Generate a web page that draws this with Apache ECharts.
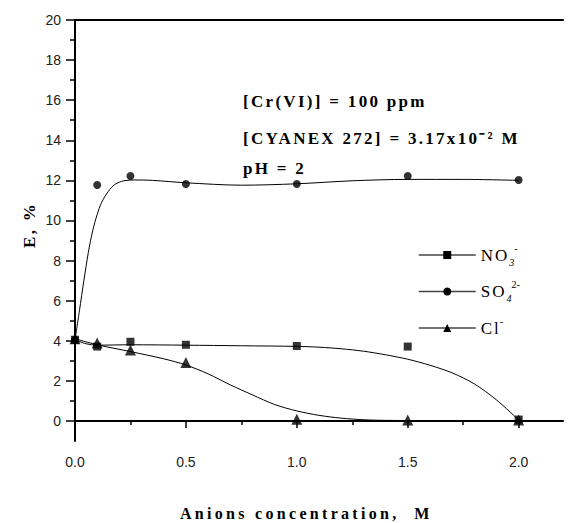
<!DOCTYPE html>
<html>
<head>
<meta charset="utf-8">
<script src="https://cdn.jsdelivr.net/npm/echarts@6/dist/echarts.min.js"></script>
<style>
html, body { margin: 0; padding: 0; background: #fff; }
#chart { width: 568px; height: 523px; }
/* the original uses spaced-out serif lettering */
#chart text[style*="bold"] { letter-spacing: 2.3px; }
#chart text[style*="bold"][style*="16px"] { letter-spacing: 3.3px; }
#chart text[style*="17px"]:not([style*="bold"]) { letter-spacing: 2px; }
</style>
</head>
<body>
<div id="chart"></div>
<script>
// axis ticks
const xTicks = [0, 0.5, 1, 1.5, 2];
const xMinorTicks = [0.25, 0.75, 1.25, 1.75];
const yTicks = [0, 2, 4, 6, 8, 10, 12, 14, 16, 18, 20];
const yMinorTicks = [1, 3, 5, 7, 9, 11, 13, 15, 17, 19];

// measured points
const seriesNames = ['NO3-', 'SO42-', 'Cl-'];
const concentration = [0, 0.1, 0.25, 0.5, 1.0, 1.5, 2.0];
const no3Values = [4.05, 3.71, 3.95, 3.8, 3.74, 3.71, 0.07];
const so4Values = [4.05, 11.77, 12.22, 11.82, 11.82, 12.22, 12.02];
const clValues = [4.1, 3.89, 3.54, 2.91, 0.08, 0.05, 0.05];

// fitted curves
const no3Fit = [[0, 4.05], [0.05, 3.85], [0.1, 3.78], [0.25, 3.8], [0.5, 3.78], [0.75, 3.75], [1.0, 3.72],
    [1.1, 3.68], [1.2, 3.6], [1.3, 3.48], [1.4, 3.3], [1.5, 3.08], [1.6, 2.78], [1.7, 2.4], [1.8, 1.85],
    [1.9, 1.05], [2.0, 0.05]];
const so4Fit = [[0, 4.05], [0.02, 5.5], [0.04, 7.0], [0.06, 8.4], [0.08, 9.5], [0.1, 10.3], [0.12, 10.9],
    [0.15, 11.45], [0.18, 11.8], [0.22, 11.98], [0.27, 12.02], [0.35, 12.0], [0.5, 11.88], [0.75, 11.76],
    [1.0, 11.83], [1.25, 11.98], [1.5, 12.05], [1.75, 12.05], [2.0, 12.0]];
const clFit = [[0, 4.1], [0.1, 3.8], [0.25, 3.46], [0.4, 3.1], [0.5, 2.79], [0.6, 2.35], [0.7, 1.8],
    [0.8, 1.3], [0.9, 0.82], [1.0, 0.5], [1.1, 0.28], [1.2, 0.14], [1.3, 0.06], [1.4, 0.03], [1.6, 0.02],
    [2.0, 0.02]];

// texts
const legendLabels = {
    'NO3-': '{m|NO}{sub|3}{sup|-}',
    'SO42-': '{m|SO}{sub|4}{sup|2-}',
    'Cl-': '{m|Cl}{supc|-}'
};
const notes = ['[Cr(VI)] = 100 ppm', '[CYANEX 272] = 3.17x10\u207B\u00B2 M', 'pH = 2'];
const xName = 'Anions concentration,  M';
const yName = 'E, %';

const symbols = ['rect', 'circle', 'triangle'];
const symbolSizes = [8, 8, 11];
const fits = [no3Fit, so4Fit, clFit];
const values = [no3Values, so4Values, clValues];

const myChart = echarts.init(document.getElementById('chart'), null, { renderer: 'svg' });

const tickLabel = { fontFamily: 'Liberation Sans', fontSize: 14, color: '#222' };
const blackLine = { color: '#000', width: 2 };
const tickLine = { color: '#000', width: 1.5 };

function valueAxis(min, max, extra) {
    return Object.assign({
        type: 'value',
        min: min,
        max: max,
        splitLine: { show: false },
        axisLine: { show: false },
        axisTick: { show: false },
        axisLabel: { show: false }
    }, extra);
}

// bold serif text placed on the canvas
function boldText(text, x, y, size, rotation) {
    return {
        type: 'text', x: x, y: y, rotation: rotation || 0, silent: true,
        style: {
            text: text, fontFamily: 'Liberation Serif', fontWeight: 'bold', fontSize: size,
            fill: '#000', align: 'left', verticalAlign: 'middle'
        }
    };
}

const series = [];
seriesNames.forEach(function (name, i) {
    series.push({
        name: name,
        type: 'line',
        data: fits[i],
        smooth: 0.3,
        symbol: symbols[i],
        showSymbol: false,
        silent: true,
        lineStyle: { color: '#000', width: 1 },
        itemStyle: { color: '#000' },
        z: 2
    });
    series.push({
        name: name + ' data',
        type: 'scatter',
        data: concentration.map(function (c, k) { return [c, values[i][k]]; }),
        symbol: symbols[i],
        symbolSize: symbolSizes[i],
        itemStyle: { color: '#000' },
        silent: true,
        z: 3
    });
});

myChart.setOption({
    animation: false,
    backgroundColor: '#fff',
    grid: { left: 75, right: 5, top: 20, bottom: 82, containLabel: false, outerBoundsMode: 'none' },
    xAxis: [
        valueAxis(0, 2.2, {
            position: 'bottom',
            axisLine: { show: true, lineStyle: blackLine },
            axisTick: { show: true, customValues: xTicks, length: 7, lineStyle: tickLine },
            axisLabel: Object.assign({ show: true, customValues: xTicks, margin: 14,
                formatter: function (v) { return v.toFixed(1); } }, tickLabel)
        }),
        valueAxis(0, 2.2, {
            position: 'bottom',
            axisTick: { show: true, customValues: xMinorTicks, length: 4, lineStyle: tickLine }
        }),
        valueAxis(0, 2.2, {
            position: 'top',
            axisLine: { show: true, lineStyle: blackLine }
        })
    ],
    yAxis: [
        valueAxis(-1, 20, {
            position: 'left',
            axisLine: { show: true, lineStyle: blackLine },
            axisTick: { show: true, customValues: yTicks, length: 9, lineStyle: tickLine },
            axisLabel: Object.assign({ show: true, customValues: yTicks, margin: 14 }, tickLabel)
        }),
        valueAxis(-1, 20, {
            position: 'left',
            axisTick: { show: true, customValues: yMinorTicks, length: 5, lineStyle: tickLine }
        })
    ],
    legend: {
        data: seriesNames,
        orient: 'vertical',
        left: 413,
        top: 238,
        itemWidth: 57,
        itemHeight: 10,
        itemGap: 12.5,
        selectedMode: false,
        lineStyle: { color: '#444', width: 1.5 },
        formatter: function (name) { return legendLabels[name]; },
        textStyle: {
            color: '#000',
            rich: {
                m: { fontFamily: 'Liberation Serif', fontSize: 17, lineHeight: 24, color: '#000' },
                sub: { fontFamily: 'Liberation Serif', fontSize: 10, fontStyle: 'italic', lineHeight: 10,
                    verticalAlign: 'bottom', color: '#000', padding: [0, 0, 0, 4] },
                sup: { fontFamily: 'Liberation Serif', fontSize: 10, lineHeight: 10,
                    verticalAlign: 'top', color: '#000' },
                supc: { fontFamily: 'Liberation Serif', fontSize: 10, lineHeight: 10,
                    verticalAlign: 'top', color: '#000', padding: [0, 0, 0, 3] }
            }
        }
    },
    graphic: [
        boldText(notes[0], 243, 101, 17),
        boldText(notes[1], 243, 138, 17),
        boldText(notes[2], 243, 168, 17),
        boldText(xName, 180, 513, 16),
        boldText(yName, 29, 248, 17, Math.PI / 2)
    ],
    series: series
});
</script>
</body>
</html>
